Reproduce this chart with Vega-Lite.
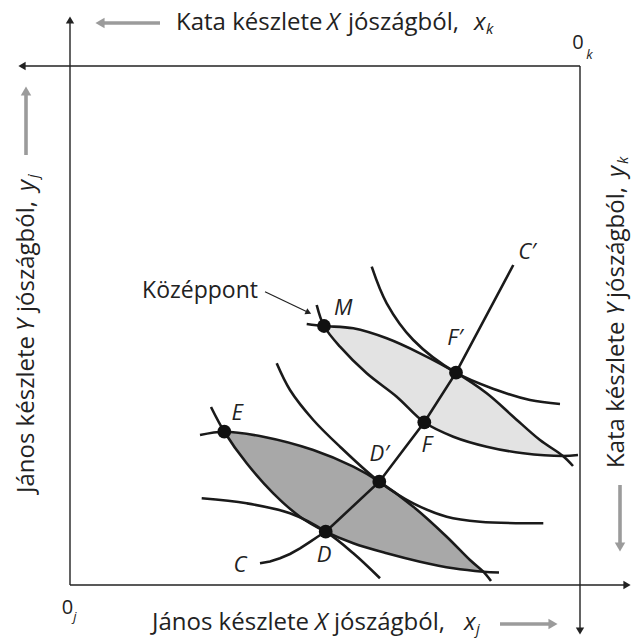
{
  "$schema": "https://vega.github.io/schema/vega-lite/v6.json",
  "width": 638,
  "height": 642,
  "autosize": "none",
  "padding": 0,
  "background": "white",
  "config": {"view": {"stroke": null}},
  "datasets": {
    "lenses": [
      {"lens":"1","i":0,"x":224.3,"y":210.3},{"lens":"1","i":1,"x":263.3,"y":205.3},{"lens":"1","i":2,"x":313.3,"y":192},{"lens":"1","i":3,"x":353.3,"y":175.3},{"lens":"1","i":4,"x":379.3,"y":160.3},{"lens":"1","i":5,"x":413.3,"y":135.3},{"lens":"1","i":6,"x":446.7,"y":105.3},{"lens":"1","i":7,"x":470,"y":82},{"lens":"1","i":8,"x":483.3,"y":70.3},{"lens":"1","i":9,"x":453.3,"y":73.7},{"lens":"1","i":10,"x":420,"y":80.3},{"lens":"1","i":11,"x":386.7,"y":88.7},{"lens":"1","i":12,"x":353.3,"y":98.7},{"lens":"1","i":13,"x":325.7,"y":110.3},{"lens":"1","i":14,"x":300,"y":125.3},{"lens":"1","i":15,"x":273.3,"y":148.7},{"lens":"1","i":16,"x":246.7,"y":178.7},{"lens":"1","i":17,"x":224.3,"y":210.3},
      {"lens":"2","i":0,"x":324,"y":316},{"lens":"2","i":1,"x":353.3,"y":313.7},{"lens":"2","i":2,"x":386.7,"y":303.7},{"lens":"2","i":3,"x":420,"y":288.7},{"lens":"2","i":4,"x":456,"y":269.3},{"lens":"2","i":5,"x":486.7,"y":248.7},{"lens":"2","i":6,"x":513.3,"y":225.3},{"lens":"2","i":7,"x":540,"y":202},{"lens":"2","i":8,"x":563,"y":186},{"lens":"2","i":9,"x":523.3,"y":188.7},{"lens":"2","i":10,"x":486.7,"y":195.3},{"lens":"2","i":11,"x":453.3,"y":205.3},{"lens":"2","i":12,"x":424.3,"y":219.7},{"lens":"2","i":13,"x":396.7,"y":245.3},{"lens":"2","i":14,"x":366.7,"y":268.7},{"lens":"2","i":15,"x":340,"y":295.3},{"lens":"2","i":16,"x":324,"y":316}
    ],
    "curves": [
      {"c":"K1","i":0,"x":200,"y":207},{"c":"K1","i":1,"x":224.3,"y":210.3},{"c":"K1","i":2,"x":263.3,"y":205.3},{"c":"K1","i":3,"x":313.3,"y":192},{"c":"K1","i":4,"x":353.3,"y":175.3},{"c":"K1","i":5,"x":379.3,"y":160.3},{"c":"K1","i":6,"x":413.3,"y":135.3},{"c":"K1","i":7,"x":446.7,"y":105.3},{"c":"K1","i":8,"x":470,"y":82},{"c":"K1","i":9,"x":483.3,"y":70.3},{"c":"K1","i":10,"x":491,"y":61},
      {"c":"J1","i":0,"x":211,"y":235},{"c":"J1","i":1,"x":224.3,"y":210.3},{"c":"J1","i":2,"x":246.7,"y":178.7},{"c":"J1","i":3,"x":273.3,"y":148.7},{"c":"J1","i":4,"x":300,"y":125.3},{"c":"J1","i":5,"x":325.7,"y":110.3},{"c":"J1","i":6,"x":353.3,"y":98.7},{"c":"J1","i":7,"x":386.7,"y":88.7},{"c":"J1","i":8,"x":420,"y":80.3},{"c":"J1","i":9,"x":453.3,"y":73.7},{"c":"J1","i":10,"x":483.3,"y":70.3},{"c":"J1","i":11,"x":499,"y":69.5},
      {"c":"K2","i":0,"x":201.7,"y":143.7},{"c":"K2","i":1,"x":246.7,"y":138.7},{"c":"K2","i":2,"x":290,"y":128.7},{"c":"K2","i":3,"x":325.7,"y":110.3},{"c":"K2","i":4,"x":353.3,"y":88.7},{"c":"K2","i":5,"x":380,"y":63.7},
      {"c":"J2","i":0,"x":276.7,"y":278.7},{"c":"J2","i":1,"x":290,"y":252},{"c":"J2","i":2,"x":313.3,"y":222},{"c":"J2","i":3,"x":340,"y":195.3},{"c":"J2","i":4,"x":379.3,"y":160.3},{"c":"J2","i":5,"x":413.3,"y":138.7},{"c":"J2","i":6,"x":446.7,"y":125.3},{"c":"J2","i":7,"x":480,"y":120.3},{"c":"J2","i":8,"x":543.3,"y":118.7},
      {"c":"K3","i":0,"x":306.7,"y":318},{"c":"K3","i":1,"x":324,"y":316},{"c":"K3","i":2,"x":353.3,"y":313.7},{"c":"K3","i":3,"x":386.7,"y":303.7},{"c":"K3","i":4,"x":420,"y":288.7},{"c":"K3","i":5,"x":456,"y":269.3},{"c":"K3","i":6,"x":486.7,"y":248.7},{"c":"K3","i":7,"x":513.3,"y":225.3},{"c":"K3","i":8,"x":540,"y":202},{"c":"K3","i":9,"x":563,"y":186},{"c":"K3","i":10,"x":573,"y":176},
      {"c":"J3","i":0,"x":316.7,"y":337},{"c":"J3","i":1,"x":324,"y":316},{"c":"J3","i":2,"x":340,"y":295.3},{"c":"J3","i":3,"x":366.7,"y":268.7},{"c":"J3","i":4,"x":396.7,"y":245.3},{"c":"J3","i":5,"x":424.3,"y":219.7},{"c":"J3","i":6,"x":453.3,"y":205.3},{"c":"J3","i":7,"x":486.7,"y":195.3},{"c":"J3","i":8,"x":523.3,"y":188.7},{"c":"J3","i":9,"x":563,"y":186},{"c":"J3","i":10,"x":578,"y":187},
      {"c":"J4","i":0,"x":371.7,"y":375.3},{"c":"J4","i":1,"x":386.7,"y":338.7},{"c":"J4","i":2,"x":413.3,"y":302},{"c":"J4","i":3,"x":456,"y":269.3},{"c":"J4","i":4,"x":496.7,"y":252},{"c":"J4","i":5,"x":530,"y":242},{"c":"J4","i":6,"x":560,"y":238}
    ],
    "contract": [
      {"i":0,"x":260,"y":78.7},{"i":1,"x":270,"y":80.5},{"i":2,"x":280,"y":83.7},{"i":3,"x":290,"y":88},{"i":4,"x":300,"y":93.7},{"i":5,"x":310,"y":100.2},{"i":6,"x":318,"y":105.5},{"i":7,"x":325.7,"y":110.3},{"i":8,"x":379.3,"y":160.3},{"i":9,"x":424.3,"y":219.7},{"i":10,"x":456,"y":269.3},{"i":11,"x":513.3,"y":377}
    ],
    "dots": [
      {"p":"M","x":324,"y":316},{"p":"F'","x":456,"y":269.3},{"p":"F","x":424.3,"y":219.7},{"p":"D'","x":379.3,"y":160.3},{"p":"D","x":325.7,"y":110.3},{"p":"E","x":224.3,"y":210.3}
    ],
    "pointLabels": [
      {"t":"M","x":343.3,"y":333.7},{"t":"F′","x":455,"y":304},{"t":"F","x":426.7,"y":197},{"t":"D′","x":379.3,"y":188},{"t":"D","x":324,"y":87},{"t":"E","x":237.3,"y":228.7},{"t":"C","x":240,"y":77},{"t":"C′","x":527,"y":390}
    ],
    "frame": [
      {"x":70,"y":57,"x2":70,"y2":622},
      {"x":580,"y":576,"x2":23,"y2":576},
      {"x":70,"y":57,"x2":626,"y2":57},
      {"x":580,"y":576,"x2":580,"y2":12}
    ],
    "frameHeads": [
      {"dir":"up","x":70,"y":622},{"dir":"left","x":22,"y":576},{"dir":"right","x":627,"y":57},{"dir":"down","x":580,"y":11}
    ],
    "grayShafts": [
      {"x":160,"y":619,"x2":104,"y2":619},
      {"x":500,"y":18,"x2":549,"y2":18},
      {"x":26,"y":487,"x2":26,"y2":548},
      {"x":620,"y":157,"x2":620,"y2":98}
    ],
    "grayHeads": [
      {"dir":"left","x":100,"y":619},{"dir":"right","x":553,"y":18},{"dir":"up","x":26,"y":551},{"dir":"down","x":620,"y":95}
    ],
    "noteArrow": [
      {"x":265,"y":350.3,"x2":308,"y2":329.8}
    ],
    "noteHead": [
      {"x":308.5,"y":329.5}
    ],
    "note": [
      {"t":"Középpont","x":258,"y":351}
    ],
    "hNormal": [
      {"t":"Kata készlete","x":176,"y":619},{"t":"jószágból,","x":348,"y":619},
      {"t":"János készlete","x":152,"y":19},{"t":"jószágból,","x":334,"y":19}
    ],
    "hItalic": [
      {"t":"X","x":327,"y":619},{"t":"x","x":474,"y":619},
      {"t":"X","x":315,"y":19},{"t":"x","x":464,"y":19}
    ],
    "hSub": [
      {"t":"k","x":486,"y":613},{"t":"j","x":476,"y":13}
    ],
    "vNormal": [
      {"t":"János készlete","x":27,"y":149},{"t":"jószágból,","x":27,"y":330},
      {"t":"Kata készlete","x":617,"y":174},{"t":"jószágból,","x":617,"y":344}
    ],
    "vItalic": [
      {"t":"Y","x":27,"y":311},{"t":"y","x":27,"y":451},
      {"t":"Y","x":617,"y":327},{"t":"y","x":617,"y":465}
    ],
    "vSub": [
      {"t":"j","x":33,"y":464},{"t":"k","x":623,"y":478}
    ],
    "origins": [
      {"t":"0","x":578,"y":599.5},{"t":"0","x":67.5,"y":34.5}
    ],
    "originSubs": [
      {"t":"k","x":589.5,"y":587},{"t":"j","x":75,"y":25}
    ]
  },
  "encoding": {
    "x": {"field":"x","type":"quantitative","scale":{"domain":[0,638],"nice":false,"zero":false},"axis":null},
    "y": {"field":"y","type":"quantitative","scale":{"domain":[0,642],"nice":false,"zero":false},"axis":null}
  },
  "layer": [
    {
      "data":{"name":"lenses"},
      "transform":[{"filter":"datum.lens == '1'"}],
      "mark":{"type":"line","fill":"#a8a8a8","strokeWidth":0,"interpolate":"linear"},
      "encoding":{"order":{"field":"i","type":"quantitative"}}
    },
    {
      "data":{"name":"lenses"},
      "transform":[{"filter":"datum.lens == '2'"}],
      "mark":{"type":"line","fill":"#e3e3e3","strokeWidth":0,"interpolate":"linear"},
      "encoding":{"order":{"field":"i","type":"quantitative"}}
    },
    {
      "data":{"name":"curves"},
      "mark":{"type":"line","color":"#1a1a1a","strokeWidth":2.6,"interpolate":"catmull-rom"},
      "encoding":{"detail":{"field":"c","type":"nominal"},"order":{"field":"i","type":"quantitative"}}
    },
    {
      "data":{"name":"contract"},
      "mark":{"type":"line","color":"#1a1a1a","strokeWidth":2.6,"interpolate":"linear"},
      "encoding":{"order":{"field":"i","type":"quantitative"}}
    },
    {
      "data":{"name":"dots"},
      "mark":{"type":"point","filled":true,"color":"#111","size":190,"opacity":1}
    },
    {
      "data":{"name":"pointLabels"},
      "mark":{"type":"text","font":"Open Sans","fontStyle":"italic","fontSize":22,"color":"#222","align":"center","baseline":"middle"},
      "encoding":{"text":{"field":"t"}}
    },
    {
      "data":{"name":"note"},
      "mark":{"type":"text","font":"Open Sans","fontSize":23,"color":"#222","align":"right","baseline":"middle"},
      "encoding":{"text":{"field":"t"}}
    },
    {
      "data":{"name":"noteArrow"},
      "mark":{"type":"rule","color":"#222","strokeWidth":1.2},
      "encoding":{"x2":{"field":"x2"},"y2":{"field":"y2"}}
    },
    {
      "data":{"name":"noteHead"},
      "mark":{"type":"point","shape":"triangle-right","angle":25.5,"filled":true,"color":"#222","size":45,"opacity":1}
    },
    {
      "data":{"name":"frame"},
      "mark":{"type":"rule","color":"#222","strokeWidth":1.4},
      "encoding":{"x2":{"field":"x2"},"y2":{"field":"y2"}}
    },
    {
      "data":{"name":"frameHeads"},
      "mark":{"type":"point","filled":true,"color":"#222","size":70,"opacity":1},
      "encoding":{"shape":{"field":"dir","type":"nominal","scale":{"domain":["up","down","left","right"],"range":["triangle-up","triangle-down","triangle-left","triangle-right"]},"legend":null}}
    },
    {
      "data":{"name":"grayShafts"},
      "mark":{"type":"rule","color":"#9b9b9b","strokeWidth":3.6},
      "encoding":{"x2":{"field":"x2"},"y2":{"field":"y2"}}
    },
    {
      "data":{"name":"grayHeads"},
      "mark":{"type":"point","filled":true,"color":"#9b9b9b","size":110,"opacity":1},
      "encoding":{"shape":{"field":"dir","type":"nominal","scale":{"domain":["up","down","left","right"],"range":["triangle-up","triangle-down","triangle-left","triangle-right"]},"legend":null}}
    },
    {
      "data":{"name":"hNormal"},
      "mark":{"type":"text","font":"Open Sans","fontSize":24,"color":"#222","align":"left","baseline":"middle"},
      "encoding":{"text":{"field":"t"}}
    },
    {
      "data":{"name":"hItalic"},
      "mark":{"type":"text","font":"Open Sans","fontStyle":"italic","fontSize":24,"color":"#222","align":"left","baseline":"middle"},
      "encoding":{"text":{"field":"t"}}
    },
    {
      "data":{"name":"hSub"},
      "mark":{"type":"text","font":"Open Sans","fontStyle":"italic","fontSize":15,"color":"#222","align":"left","baseline":"middle"},
      "encoding":{"text":{"field":"t"}}
    },
    {
      "data":{"name":"vNormal"},
      "mark":{"type":"text","font":"Open Sans","fontSize":24,"color":"#222","align":"left","baseline":"middle","angle":270},
      "encoding":{"text":{"field":"t"}}
    },
    {
      "data":{"name":"vItalic"},
      "mark":{"type":"text","font":"Open Sans","fontStyle":"italic","fontSize":24,"color":"#222","align":"left","baseline":"middle","angle":270},
      "encoding":{"text":{"field":"t"}}
    },
    {
      "data":{"name":"vSub"},
      "mark":{"type":"text","font":"Open Sans","fontStyle":"italic","fontSize":15,"color":"#222","align":"left","baseline":"middle","angle":270},
      "encoding":{"text":{"field":"t"}}
    },
    {
      "data":{"name":"origins"},
      "mark":{"type":"text","font":"Open Sans","fontSize":20,"color":"#222","align":"center","baseline":"middle"},
      "encoding":{"text":{"field":"t"}}
    },
    {
      "data":{"name":"originSubs"},
      "mark":{"type":"text","font":"Open Sans","fontStyle":"italic","fontSize":13,"color":"#222","align":"center","baseline":"middle"},
      "encoding":{"text":{"field":"t"}}
    }
  ]
}
